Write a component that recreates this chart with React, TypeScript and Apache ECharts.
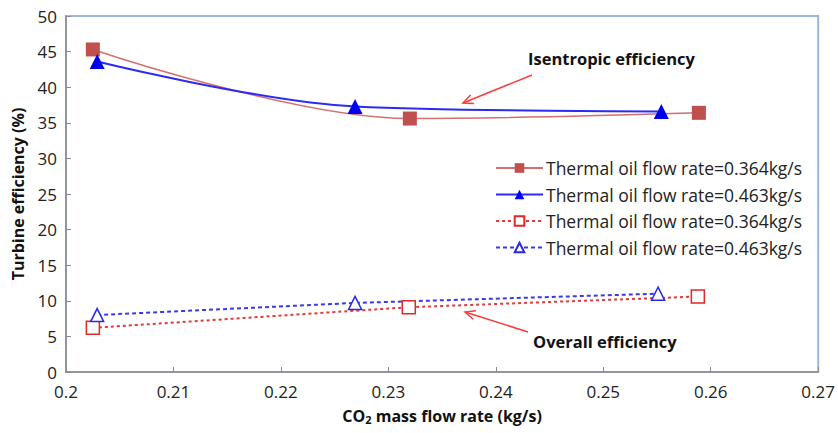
import React, { useEffect, useRef } from "react";
import * as echarts from "echarts";

const seriesNames = [
  "Thermal oil flow rate=0.364kg/s",
  "Thermal oil flow rate=0.463kg/s",
  "Thermal oil flow rate=0.364kg/s ",
  "Thermal oil flow rate=0.463kg/s ",
];
const isenRed: number[][] = [[0.2025, 45.3], [0.232, 35.6], [0.2589, 36.4]];
const isenBlue: number[][] = [[0.2029, 43.6], [0.2269, 37.3], [0.2554, 36.6]];
const overallRed: number[][] = [[0.2025, 6.2], [0.2319, 9.1], [0.2588, 10.6]];
const overallBlue: number[][] = [[0.2029, 8.0], [0.2269, 9.7], [0.2551, 11.0]];
const xTicks = [0.2, 0.21, 0.22, 0.23, 0.24, 0.25, 0.26, 0.27];
const yTicks = [0, 5, 10, 15, 20, 25, 30, 35, 40, 45, 50];

const FONT = "Open Sans";

export default function App() {
  const ref = useRef<HTMLDivElement>(null);
  useEffect(() => {
    const chart = echarts.init(ref.current!, null, { renderer: "svg" });
    const arrowHead = (x1: number, y1: number, x2: number, y2: number) => {
      const a = Math.atan2(y2 - y1, x2 - x1);
      const L = 11, w = 0.42;
      return [
        [x2 - L * Math.cos(a - w), y2 - L * Math.sin(a - w)],
        [x2, y2],
        [x2 - L * Math.cos(a + w), y2 - L * Math.sin(a + w)],
      ];
    };
    const arrows = [
      [532, 75, 463, 103],
      [528, 332, 465, 312],
    ];
    const graphic: any[] = [];
    arrows.forEach(([x1, y1, x2, y2]) => {
      graphic.push({ type: "line", shape: { x1, y1, x2, y2 }, style: { stroke: "#FF3B3B", lineWidth: 1.5 }, z: 10 });
      graphic.push({ type: "polyline", shape: { points: arrowHead(x1, y1, x2, y2) }, style: { stroke: "#FF3B3B", lineWidth: 1.5, fill: "none" }, z: 10 });
    });
    graphic.push({ type: "text", x: 528, y: 58, style: { text: "Isentropic efficiency", font: `bold 16.5px "${FONT}"`, fill: "#111", textVerticalAlign: "middle" }, z: 10 });
    graphic.push({ type: "text", x: 533, y: 341, style: { text: "Overall efficiency", font: `bold 16.5px "${FONT}"`, fill: "#111", textVerticalAlign: "middle" }, z: 10 });

    chart.setOption({
      animation: false,
      backgroundColor: "#fff",
      textStyle: { fontFamily: FONT },
      grid: { left: 66, right: 17, top: 16, bottom: 61, show: true, borderColor: "#9DB8DC", borderWidth: 2 },
      legend: {
        orient: "vertical",
        left: 490,
        top: 154,
        itemWidth: 47,
        itemHeight: 12,
        itemGap: 8.5,
        data: seriesNames,
        formatter: (n: string) => n.trim(),
        textStyle: { fontFamily: FONT, fontSize: 17.5, color: "#222", padding: [0, 0, 0, -2] },
      },
      xAxis: {
        type: "value",
        min: 0.2,
        max: 0.27,
        interval: 0.01,
        name: "{b|CO}{s|2}{b| mass flow rate (kg/s)}",
        nameLocation: "middle",
        nameGap: 34,
        nameTextStyle: {
          rich: {
            b: { fontFamily: FONT, fontWeight: "bold", fontSize: 16, color: "#111" },
            s: { fontFamily: FONT, fontWeight: "bold", fontSize: 11, color: "#111", padding: [8, 0, 0, 0] },
          },
        },
        axisLine: { lineStyle: { color: "#8C8C8C", width: 1.5 } },
        axisTick: { inside: true, length: 5, lineStyle: { color: "#8C8C8C" } },
        axisLabel: { fontSize: 17, color: "#222", margin: 11, formatter: (v: number) => String(+v.toFixed(2)) },
        splitLine: { show: false },
      },
      yAxis: {
        type: "value",
        min: 0,
        max: 50,
        interval: 5,
        name: "Turbine efficiency (%)",
        nameLocation: "middle",
        nameGap: 40,
        nameTextStyle: { fontFamily: FONT, fontWeight: "bold", fontSize: 16, color: "#111" },
        axisLine: { show: true, lineStyle: { color: "#8C8C8C", width: 1.5 } },
        axisTick: { show: true, inside: true, length: 5, lineStyle: { color: "#8C8C8C" } },
        axisLabel: { fontSize: 17, color: "#222", margin: 9 },
        splitLine: { show: false },
      },
      graphic,
      series: [
        {
          name: seriesNames[0], type: "line", data: isenRed, smooth: 0.35,
          symbol: "rect", symbolSize: 14,
          itemStyle: { color: "#C0504D" },
          lineStyle: { color: "#D2706E", width: 1.5 },
        },
        {
          name: seriesNames[1], type: "line", data: isenBlue, smooth: 0.35,
          symbol: "triangle", symbolSize: 15,
          itemStyle: { color: "#0000F0" },
          lineStyle: { color: "#2B2BF5", width: 2 },
        },
        {
          name: seriesNames[2], type: "line", data: overallRed,
          symbol: "rect", symbolSize: 13,
          itemStyle: { color: "#fff", borderColor: "#E02828", borderWidth: 1.5 },
          lineStyle: { color: "#E03A3A", width: 2, type: [3, 3] },
        },
        {
          name: seriesNames[3], type: "line", data: overallBlue,
          symbol: "triangle", symbolSize: 13,
          itemStyle: { color: "#fff", borderColor: "#2828E8", borderWidth: 1.5 },
          lineStyle: { color: "#3A3AEA", width: 2, type: [4, 3] },
        },
      ],
    });
    return () => chart.dispose();
  }, []);
  return <div ref={ref} style={{ position: "absolute", left: 0, top: 0, width: 838, height: 433 }} />;
}
